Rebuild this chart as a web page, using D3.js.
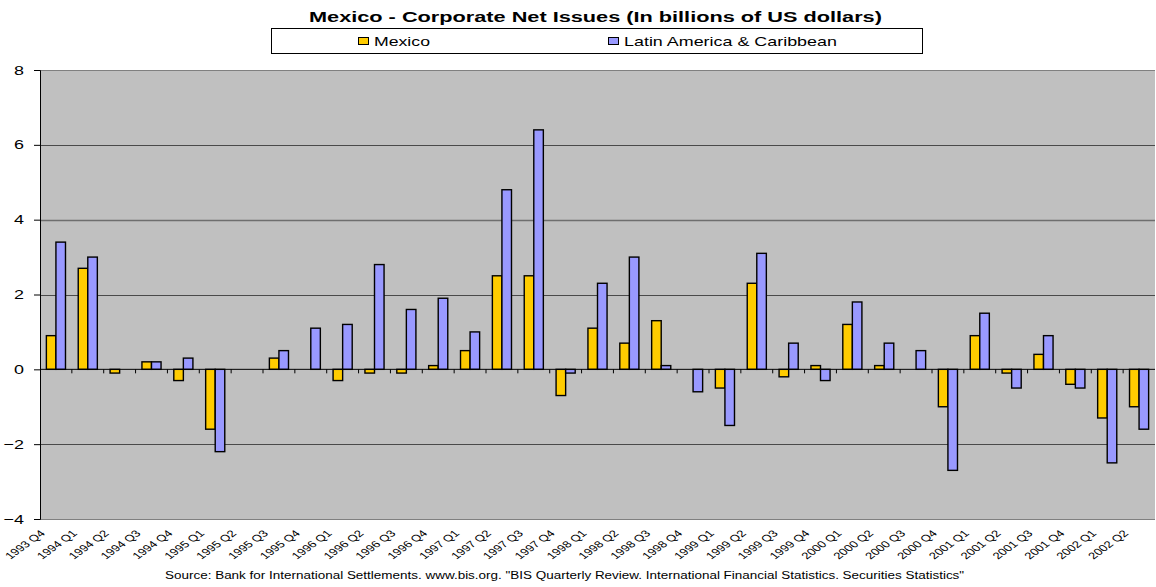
<!DOCTYPE html>
<html>
<head>
<meta charset="utf-8">
<script src="https://cdn.jsdelivr.net/npm/d3@7"></script>
<style>
  body { margin: 0; background: #fff; }
  svg { display: block; font-family: 'Liberation Sans', Arial, sans-serif; }
</style>
</head>
<body>
<svg id="chart" width="1156" height="587"></svg>
<script>
'use strict'

const quarters = [
  '1993 Q4', '1994 Q1', '1994 Q2', '1994 Q3', '1994 Q4',
  '1995 Q1', '1995 Q2', '1995 Q3', '1995 Q4',
  '1996 Q1', '1996 Q2', '1996 Q3', '1996 Q4',
  '1997 Q1', '1997 Q2', '1997 Q3', '1997 Q4',
  '1998 Q1', '1998 Q2', '1998 Q3', '1998 Q4',
  '1999 Q1', '1999 Q2', '1999 Q3', '1999 Q4',
  '2000 Q1', '2000 Q2', '2000 Q3', '2000 Q4',
  '2001 Q1', '2001 Q2', '2001 Q3', '2001 Q4',
  '2002 Q1', '2002 Q2'
]
const mexico = [
  0.9, 2.7, -0.1, 0.2, -0.3,
  -1.6, 0, 0.3, 0,
  -0.3, -0.1, -0.1, 0.1,
  0.5, 2.5, 2.5, -0.7,
  1.1, 0.7, 1.3, 0,
  -0.5, 2.3, -0.2, 0.1,
  1.2, 0.1, 0, -1.0,
  0.9, -0.1, 0.4, -0.4,
  -1.3, -1.0
]
const latam = [
  3.4, 3.0, 0, 0.2, 0.3,
  -2.2, 0, 0.5, 1.1,
  1.2, 2.8, 1.6, 1.9,
  1.0, 4.8, 6.4, -0.1,
  2.3, 3.0, 0.1, -0.6,
  -1.5, 3.1, 0.7, -0.3,
  1.8, 0.7, 0.5, -2.7,
  1.5, -0.5, 0.9, -0.5,
  -2.5, -1.6
]
const seriesNames = ['Mexico', 'Latin America & Caribbean']
const seriesColors = ['#ffcc00', '#9999ff']
const yTicks = [-4, -2, 0, 2, 4, 6, 8]

const plotLeft = 40
const plotRight = 1155
const plotTop = 70
const plotBottom = 519
const SX = 1.38 // the original picture is stretched sideways

const svg = d3.select('#chart')

// text stretched horizontally so that it spans a given width
function wideText (parent, x, y, str, size, width, anchor, bold) {
  const t = parent.append('text')
    .attr('font-size', size)
    .attr('font-weight', bold ? 'bold' : null)
    .attr('text-anchor', anchor || 'start')
    .text(str)
  const s = width ? width / t.node().getComputedTextLength() : SX
  t.attr('transform', `translate(${x},${y}) scale(${s},1)`)
  return t
}

const x = d3.scaleBand().domain(quarters).range([plotLeft, plotRight])
const groupWidth = x.bandwidth() * 0.6
const xInner = d3.scaleBand().domain([0, 1]).range([0, groupWidth])
const y = d3.scaleLinear().domain([-4, 8]).range([plotBottom, plotTop])

// plot area
svg.append('rect')
  .attr('x', plotLeft).attr('y', plotTop)
  .attr('width', plotRight - plotLeft).attr('height', plotBottom - plotTop)
  .attr('fill', '#c0c0c0')

// gridlines
svg.append('g')
  .selectAll('line')
  .data(yTicks.filter((v) => v !== 0))
  .enter()
  .append('line')
  .attr('x1', plotLeft).attr('x2', plotRight)
  .attr('y1', (d) => Math.round(y(d)) + 0.5)
  .attr('y2', (d) => Math.round(y(d)) + 0.5)
  .attr('stroke', (d) => (d === 8 || d === -4) ? '#808080' : (d === 4 ? '#6e6e6e' : '#4a4a4a'))
  .attr('stroke-width', (d) => d === 4 ? 1.6 : 1)

// bars
const data = quarters.map((q, i) => ({ q: q, values: [mexico[i], latam[i]] }))
const groups = svg.append('g')
  .selectAll('g')
  .data(data)
  .enter()
  .append('g')
  .attr('transform', (d) => `translate(${x(d.q) + (x.bandwidth() - groupWidth) / 2},0)`)

groups.selectAll('rect')
  .data((d) => d.values.map((v, s) => ({ v: v, s: s })).filter((e) => e.v !== 0))
  .enter()
  .append('rect')
  .attr('x', (e) => xInner(e.s))
  .attr('width', xInner.bandwidth())
  .attr('y', (e) => y(Math.max(0, e.v)))
  .attr('height', (e) => Math.abs(y(e.v) - y(0)))
  .attr('fill', (e) => seriesColors[e.s])
  .attr('stroke', '#000')
  .attr('stroke-width', 1.4)

// y axis (labels drawn separately, stretched)
const yAxis = svg.append('g')
  .attr('transform', `translate(${plotLeft},0)`)
  .call(d3.axisLeft(y).tickValues(yTicks).tickSize(6).tickFormat(''))
yAxis.select('.domain').attr('stroke', '#000')
yAxis.selectAll('.tick line').attr('stroke', '#000')
const yLabels = svg.append('g')
yTicks.forEach((v) => {
  wideText(yLabels, 24, y(v) + 4.6, d3.format('d')(v), 13, null, 'end')
})

// zero axis with ticks at category boundaries
svg.append('line')
  .attr('x1', plotLeft).attr('x2', plotRight)
  .attr('y1', y(0)).attr('y2', y(0))
  .attr('stroke', '#000').attr('stroke-width', 1)
svg.append('g')
  .selectAll('line')
  .data(quarters.slice(1))
  .enter()
  .append('line')
  .attr('x1', (q) => x(q)).attr('x2', (q) => x(q))
  .attr('y1', y(0)).attr('y2', y(0) + 4)
  .attr('stroke', '#000')

// x labels, rotated then stretched
svg.append('g')
  .selectAll('text')
  .data(quarters)
  .enter()
  .append('text')
  .attr('transform', (q) => `translate(${x(q) + x.bandwidth() / 2 - 10},${plotBottom + 15}) scale(${SX},1) rotate(-45)`)
  .attr('text-anchor', 'end')
  .attr('font-size', 9.5)
  .attr('fill', '#000')
  .text((q) => q)

// title
wideText(svg, 309, 22, 'Mexico - Corporate Net Issues (In billions of US dollars)', 15.5, 573, 'start', true)

// legend
const legend = svg.append('g')
legend.append('rect')
  .attr('x', 271.5).attr('y', 28.5).attr('width', 651).attr('height', 25)
  .attr('fill', '#fff').attr('stroke', '#000')
const swatchX = [358, 608]
const legendTextWidth = [56, 213]
seriesNames.forEach((name, i) => {
  legend.append('rect')
    .attr('x', swatchX[i] + 0.5).attr('y', 37.5).attr('width', 10).attr('height', 7)
    .attr('fill', seriesColors[i]).attr('stroke', '#000')
  wideText(legend, swatchX[i] + 16, 46, name, 12.5, legendTextWidth[i], 'start')
})

// source
wideText(svg, 165, 579, 'Source: Bank for International Settlements. www.bis.org. "BIS Quarterly Review. International Financial Statistics. Securities Statistics"', 11.5, 800, 'start')
</script>
</body>
</html>
